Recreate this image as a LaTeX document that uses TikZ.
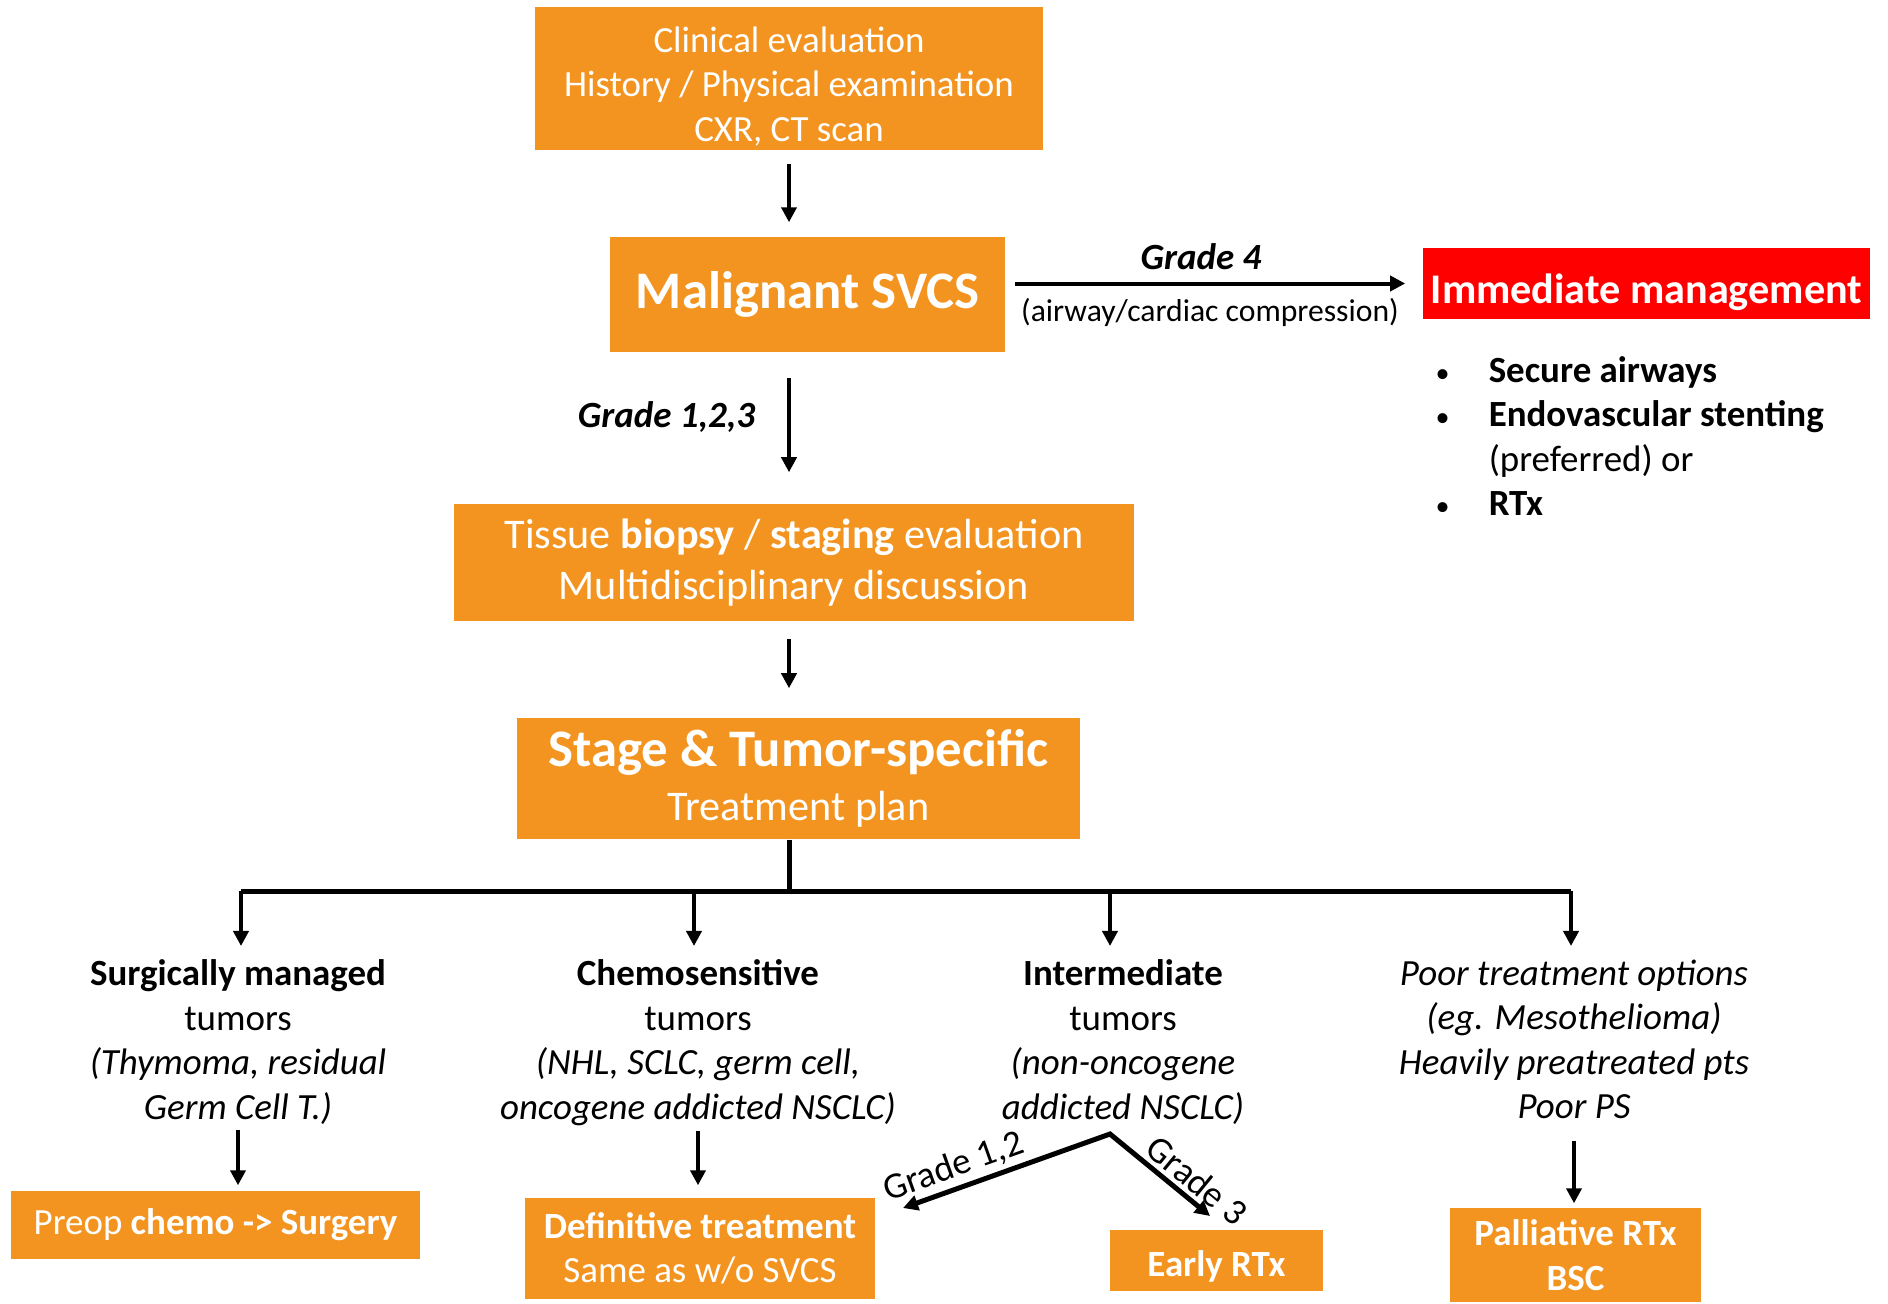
\documentclass[tikz,border=0pt]{standalone}
\usepackage{fontspec}
\setmainfont{Carlito}
\usetikzlibrary{arrows.meta}
\definecolor{svcsorange}{RGB}{243,148,32}
\definecolor{svcsred}{RGB}{255,0,0}
\newcommand{\fsn}{\fontsize{10.5}{12.66}\selectfont}
\newcommand{\fss}{\fontsize{9}{11}\selectfont}
\newcommand{\fsm}{\fontsize{12}{14.4}\selectfont}
\newcommand{\fsl}{\fontsize{15}{16.2}\selectfont}
\newcommand{\smallbul}{{\fontsize{8}{8}\selectfont\textbullet}}
\tikzset{
  obox/.style={fill=svcsorange, text=white, inner sep=0pt, align=center},
  txt/.style={align=center, inner sep=0pt, font=\fsn},
  arr/.style={line width=0.04cm, -{Triangle[length=0.15cm,width=0.15cm]}},
  bus/.style={line width=0.05cm},
}
\begin{document}
\begin{tikzpicture}[x=0.01cm, y=-0.01cm]
  \useasboundingbox (0,0) rectangle (1888,1303);
  % upper boxes
  \node[obox, font=\fsn, minimum width=5.08cm, minimum height=1.43cm] (clin) at (789,78.5)
    {\rule{0pt}{0.41cm}Clinical evaluation\\History / Physical examination\\CXR, CT scan};
  \node[obox, font=\fsl\bfseries, minimum width=3.95cm, minimum height=1.15cm] (svcs) at (807.5,294.5)
    {Malignant SVCS};
  \node[obox, fill=svcsred, font=\fsm\bfseries, minimum width=4.47cm, minimum height=0.71cm] (imm) at (1646.5,283.5)
    {\rule{0pt}{0.48cm}Immediate management};
  \node[txt, anchor=west] (immlist) at (1435,440)
    {\begin{tabular}{@{}p{0.53cm}@{}l@{}}
      \smallbul & \textbf{Secure airways}\\
      \smallbul & \textbf{Endovascular stenting}\\
                & (preferred) or\\
      \smallbul & \textbf{RTx}
    \end{tabular}};
  \node[obox, font=\fsm, minimum width=6.8cm, minimum height=1.17cm] (tissue) at (794,562.5)
    {Tissue \textbf{biopsy} / \textbf{staging} evaluation\\Multidisciplinary discussion};
  \node[obox, font=\fsm, minimum width=5.63cm, minimum height=1.21cm] (stage) at (798.5,778.5)
    {{\fsl\bfseries Stage \& Tumor-specific}\\[1pt]Treatment plan};
  % vertical flow
  \draw[arr, shorten <=0.13cm, shorten >=0.14cm] (clin.south) -- (clin.south |- svcs.north);
  \draw[arr, shorten <=0.09cm, shorten >=0.17cm] (svcs.east |- imm.west) -- (imm.west)
    node[midway, above=0.12cm, xshift=-0.13cm, inner sep=0pt, font=\fsn\bfseries\itshape] {Grade 4}
    node[midway, below=0.13cm, xshift=-0.04cm, inner sep=0pt, font=\fss] {(airway/cardiac compression)};
  \draw[arr, shorten <=0.25cm, shorten >=0.31cm] (clin.south |- svcs.south) -- (clin.south |- tissue.north)
    node[pos=0.43, left=0.32cm, inner sep=0pt, font=\fsn\bfseries\itshape] {Grade 1,2,3};
  \draw[arr, shorten <=0.17cm, shorten >=0.29cm] (clin.south |- tissue.south) -- (clin.south |- stage.north);
  % tree
  \coordinate (hub) at (789,891);
  \coordinate (b1) at (241,891);
  \coordinate (b2) at (694,891);
  \coordinate (b3) at (1110,891);
  \coordinate (b4) at (1571,891);
  \draw[bus] (hub |- stage.south) -- (hub);
  \draw[bus] (b1) -- (b4);
  \node[txt, anchor=north] (surg) at (238,959)
    {\textbf{Surgically managed}\\tumors\\\textit{(Thymoma, residual}\\\textit{Germ Cell T.)}};
  \node[txt, anchor=north] (chemo) at (698,959)
    {\textbf{Chemosensitive}\\tumors\\\textit{(NHL, SCLC, germ cell,}\\\textit{oncogene addicted NSCLC)}};
  \node[txt, anchor=north] (inter) at (1123,959)
    {\textbf{Intermediate}\\tumors\\\textit{(non-oncogene}\\\textit{addicted NSCLC)}};
  \node[txt, anchor=north, font=\fsn\itshape] (poor) at (1574,959)
    {Poor treatment options\\(eg. Mesothelioma)\\Heavily preatreated pts\\Poor PS};
  \draw[arr, shorten >=0.13cm] (b1) -- (b1 |- surg.north);
  \draw[arr, shorten >=0.13cm] (b2) -- (b2 |- chemo.north);
  \draw[arr, shorten >=0.13cm] (b3) -- (b3 |- inter.north);
  \draw[arr, shorten >=0.13cm] (b4) -- (b4 |- poor.north);
  % lower boxes
  \node[obox, font=\fsn, minimum width=4.09cm, minimum height=0.68cm] (preop) at (215.5,1225)
    {Preop \textbf{chemo -> Surgery}};
  \node[obox, font=\fsn, minimum width=3.5cm, minimum height=1.01cm] (defin) at (700,1248.5)
    {\textbf{Definitive treatment}\\Same as w/o SVCS};
  \node[obox, font=\fsn\bfseries, minimum width=2.13cm, minimum height=0.61cm] (early) at (1216.5,1260.5)
    {\rule{0pt}{0.37cm}Early RTx};
  \node[obox, font=\fsn\bfseries, minimum width=2.51cm, minimum height=0.94cm] (pall) at (1575.5,1255)
    {Palliative RTx\\BSC};
  \draw[arr, shorten <=0.05cm, shorten >=0.05cm] (surg.south) -- (surg.south |- preop.north);
  \draw[arr, shorten <=0.05cm, shorten >=0.12cm] (chemo.south) -- (chemo.south |- defin.north);
  \draw[arr, shorten <=0.21cm, shorten >=0.04cm] (poor.south) -- (poor.south |- pall.north);
  % grade split
  \coordinate (split) at (1110,1134);
  \coordinate (g12end) at (903,1208);
  \coordinate (g3end) at (1210,1216);
  \draw[arr, line width=0.05cm, {Triangle[length=0.15cm,width=0.15cm]}-{Triangle[length=0.15cm,width=0.15cm]}]
    (g12end) -- (split) node[pos=0.28, sloped, above=0.04cm, inner sep=0pt, font=\fsn] {Grade 1,2}
    -- (g3end) node[pos=0.75, sloped, above=0.04cm, inner sep=0pt, font=\fsn] {Grade 3};
\end{tikzpicture}
\end{document}
